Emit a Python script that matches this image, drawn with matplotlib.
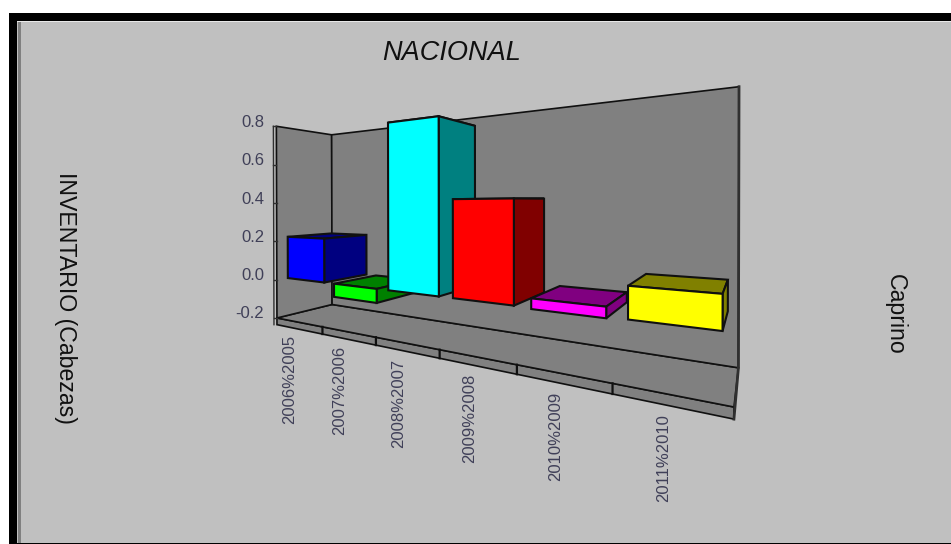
import numpy as np
import matplotlib
matplotlib.use('Agg')
import matplotlib.pyplot as plt
from matplotlib.patches import Polygon, Rectangle

categories = ['2006%2005', '2007%2006', '2008%2007', '2009%2008', '2010%2009', '2011%2010']
bases = [0.0, 0.0, 0.0, 0.0, 0.035, 0.113]   # the last bars hang from above the zero level
values = [0.22, -0.065, 0.76, 0.41, -0.005, 0.0]
front_colors = ['#0000ff', '#00ff00', '#00ffff', '#ff0000', '#ff00ff', '#ffff00']
side_colors = ['#000080', '#008000', '#008080', '#800000', '#800080', '#808000']
y_ticks = [0.8, 0.6, 0.4, 0.2, 0.0, -0.2]
y_bottom, y_top = -0.2, 0.8

# frame corners on screen, used to fit the perspective camera (x slot, value, depth) -> pixel
anchors = [
    (0, 0.8, 0, 276, 127), (0, -0.2, 0, 277, 318), (0, 0.8, 1, 332, 134), (0, -0.2, 1, 332, 305),
    (6, 0.8, 1, 739, 87), (6, -0.2, 1, 738, 368), (6, -0.2, 0, 735, 407),
    (1, -0.2, 0, 323, 327), (2, -0.2, 0, 375, 337), (3, -0.2, 0, 440, 349),
    (4, -0.2, 0, 517, 364), (5, -0.2, 0, 612, 384),
]

A, b = [], []
for X, Y, Z, u, v in anchors:
    A.append([X, Y, Z, 1, 0, 0, 0, 0, -u*X, -u*Y, -u*Z]); b.append(u)
    A.append([0, 0, 0, 0, X, Y, Z, 1, -v*X, -v*Y, -v*Z]); b.append(v)
cam = np.append(np.linalg.lstsq(np.array(A, float), np.array(b, float), rcond=None)[0], 1).reshape(3, 4)

def proj(x, y, z):
    p = cam @ np.array([x, y, z, 1.0])
    return p[0]/p[2], p[1]/p[2]

def quad(ax, pts, color, lw=1.5, ec='#101010'):
    ax.add_patch(Polygon([proj(*p) for p in pts], closed=True, fc=color, ec=ec, lw=lw, joinstyle='miter'))

fig = plt.figure(figsize=(9.51, 5.44), dpi=100, facecolor='white')
ax = fig.add_axes([0, 0, 1, 1])
ax.set_xlim(0, 951); ax.set_ylim(544, 0); ax.axis('off')
plt.rcParams['font.family'] = ['Liberation Sans', 'DejaVu Sans']

# window frame
ax.add_patch(Rectangle((9, 13), 942, 531, fc='black', ec='none'))
ax.add_patch(Rectangle((17, 21), 934, 522, fc='#c0c0c0', ec='none'))
ax.add_patch(Rectangle((18, 21), 3, 522, fc='#808080', ec='none'))
ax.add_patch(Rectangle((17, 21), 934, 1, fc='#e8e8e8', ec='none'))

gray = '#808080'
# skirt under the floor
skirt = y_bottom - 0.035
quad(ax, [(0, y_bottom, 0), (6, y_bottom, 0), (6, skirt, 0), (0, skirt, 0)], gray, lw=1.2)
for i in range(1, 6):
    ax.plot(*zip(proj(i, y_bottom, 0), proj(i, skirt, 0)), color='#101010', lw=1.6)

# walls and floor
quad(ax, [(0, y_bottom, 0), (0, y_bottom, 1), (6, y_bottom, 1), (6, y_bottom, 0)], gray, lw=1.2)
quad(ax, [(0, y_top, 0), (0, y_top, 1), (0, y_bottom, 1), (0, y_bottom, 0)], gray, lw=1.2)
quad(ax, [(0, y_top, 1), (6, y_top, 1), (6, y_bottom, 1), (0, y_bottom, 1)], gray, lw=1.2)
ax.plot(*zip(proj(6, y_top, 1), proj(6, y_bottom, 1), proj(6, skirt, 0)), color='#303030', lw=2)

# left wall outer strip with tick notches
for t in y_ticks:
    px, py = proj(0, t, 0)
    ax.plot([px-3, px], [py, py], color='#303030', lw=1)
    ax.text(264, py-4, f'{t:.1f}', ha='right', va='center', fontsize=12, color='#404058')
ax.plot(*zip((proj(0, y_top, 0)[0]-3, proj(0, y_top, 0)[1]), (proj(0, skirt, 0)[0]-3, proj(0, skirt, 0)[1])), color='#303030', lw=1)

# bars, left to right
z0, z1 = 0.17, 0.97
for i, (base, val) in enumerate(zip(bases, values)):
    x0, x1 = i+0.015+0.017*i, i+1-(0.17-0.015*i)
    lo, hi = min(base, val), max(base, val)
    quad(ax, [(x0, hi, z0), (x1, hi, z0), (x1, hi, z1), (x0, hi, z1)], side_colors[i])
    quad(ax, [(x1, lo, z0), (x1, lo, z1), (x1, hi, z1), (x1, hi, z0)], side_colors[i])
    quad(ax, [(x0, lo, z0), (x1, lo, z0), (x1, hi, z0), (x0, hi, z0)], front_colors[i])

# category labels hang under the skirt
for i, lab in enumerate(categories):
    px, py = proj(i+0.5, skirt, 0)
    ax.text(px-9+0.6*i, py+6+0.5*i, lab, rotation=90, ha='center', va='top', fontsize=12, color='#404058')

ax.text(452, 53, 'NACIONAL', ha='center', va='center', style='italic', fontsize=19.5, color='#101010')
ax.text(65, 298, 'INVENTARIO (Cabezas)', rotation=270, ha='center', va='center', fontsize=16.7, color='#101010')
ax.text(895, 314, 'Caprino', rotation=270, ha='center', va='center', fontsize=16.7, color='#101010')

fig.savefig('out.png', dpi=100, facecolor='white')
